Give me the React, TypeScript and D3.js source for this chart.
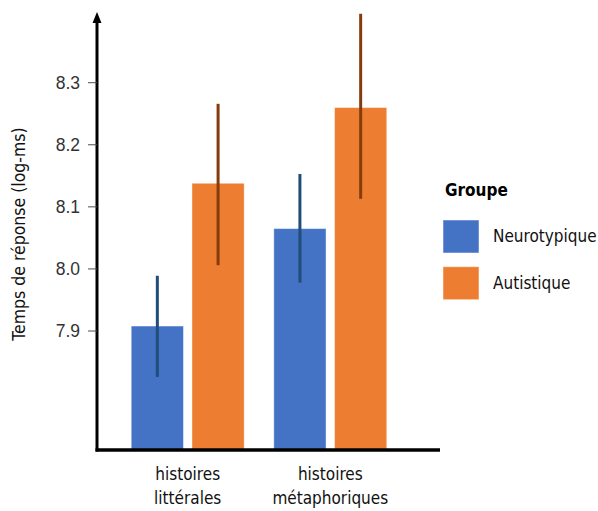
import React from "react";
import * as d3 from "d3";

const categories = ["histoires littérales", "histoires métaphoriques"];
const categoryLines = [["histoires", "littérales"], ["histoires", "métaphoriques"]];
const groups = ["Neurotypique", "Autistique"];
const means = [
  [7.908, 8.138],
  [8.065, 8.26],
];
const lower = [
  [7.826, 8.006],
  [7.978, 8.113],
];
const upper = [
  [7.989, 8.266],
  [8.153, 8.411],
];
const yTicks = [7.9, 8.0, 8.1, 8.2, 8.3];

const fillColors = ["#4472C4", "#ED7D31"];
const errColors = ["#1F4E79", "#843C0C"];

const condensed = "'Liberation Sans Narrow', 'DejaVu Sans Condensed', 'Open Sans', sans-serif";
const tickFont = "'Liberation Sans', Arial, sans-serif";

export default function App() {
  const W = 598;
  const H = 511;
  const axisX = 97;
  const baseY = 450;
  const y = d3.scaleLinear().domain([7.9, 8.3]).range([331, 82.7]);
  const yBase = y.invert(baseY);
  const x0 = d3.scaleBand<string>().domain(categories).range([97, 421]).paddingInner(0.2076).paddingOuter(0.24);
  const x1 = d3.scaleBand<string>().domain(groups).range([0, x0.bandwidth()]).paddingInner(0.14);

  return (
    <svg width={W} height={H} style={{ position: "absolute", left: 0, top: 0, background: "#fff" }}>
      {categories.map((c, ci) =>
        groups.map((g, gi) => {
          const bx = (x0(c) ?? 0) + (x1(g) ?? 0);
          const bw = x1.bandwidth();
          const top = y(means[ci][gi]);
          const cx = bx + bw / 2;
          return (
            <g key={c + g}>
              <rect x={bx} y={top} width={bw} height={y(yBase) - top} fill={fillColors[gi]} stroke="rgba(255,255,255,0.45)" strokeWidth={1} />
              <line x1={cx} x2={cx} y1={y(lower[ci][gi])} y2={y(upper[ci][gi])} stroke={errColors[gi]} strokeWidth={3} />
            </g>
          );
        })
      )}
      {/* y axis */}
      <line x1={axisX} x2={axisX} y1={22} y2={baseY + 1.5} stroke="#000" strokeWidth={3} />
      <path d={`M${axisX - 4.5},${23} L${axisX},${12} L${axisX + 4.5},${23} Z`} fill="#000" />
      {/* x axis */}
      <line x1={axisX - 1.5} x2={440} y1={baseY} y2={baseY} stroke="#000" strokeWidth={3.5} />
      {yTicks.map((t) => (
        <g key={t}>
          <line x1={88} x2={axisX} y1={y(t)} y2={y(t)} stroke="#4d4d4d" strokeWidth={1} />
          <text x={80} y={y(t)} dy="0.35em" textAnchor="end" fontFamily={tickFont} fontSize={17.5} fill="#333">
            {t.toFixed(1)}
          </text>
        </g>
      ))}
      <text
        transform={`translate(${25},${234}) rotate(-90)`}
        textAnchor="middle"
        fontFamily={condensed}
        fontSize={17.5}
        fill="#111"
      >
        Temps de réponse (log-ms)
      </text>
      {categories.map((c, ci) => {
        const cx = (x0(c) ?? 0) + x0.bandwidth() / 2;
        return (
          <text key={c} x={cx} textAnchor="middle" fontFamily={condensed} fontSize={17} fill="#111">
            <tspan x={cx} y={480}>{categoryLines[ci][0]}</tspan>
            <tspan x={cx} y={504}>{categoryLines[ci][1]}</tspan>
          </text>
        );
      })}
      <text x={445} y={196} fontFamily={condensed} fontWeight="bold" fontSize={17} fill="#000">
        Groupe
      </text>
      {groups.map((g, gi) => (
        <g key={g} transform={`translate(443,${220 + gi * 46.7})`}>
          <rect width={36} height={33} fill={fillColors[gi]} stroke="rgba(255,255,255,0.5)" />
          <text x={50} y={16.5} dy="0.35em" fontFamily={condensed} fontSize={17} fill="#111">
            {g}
          </text>
        </g>
      ))}
    </svg>
  );
}
